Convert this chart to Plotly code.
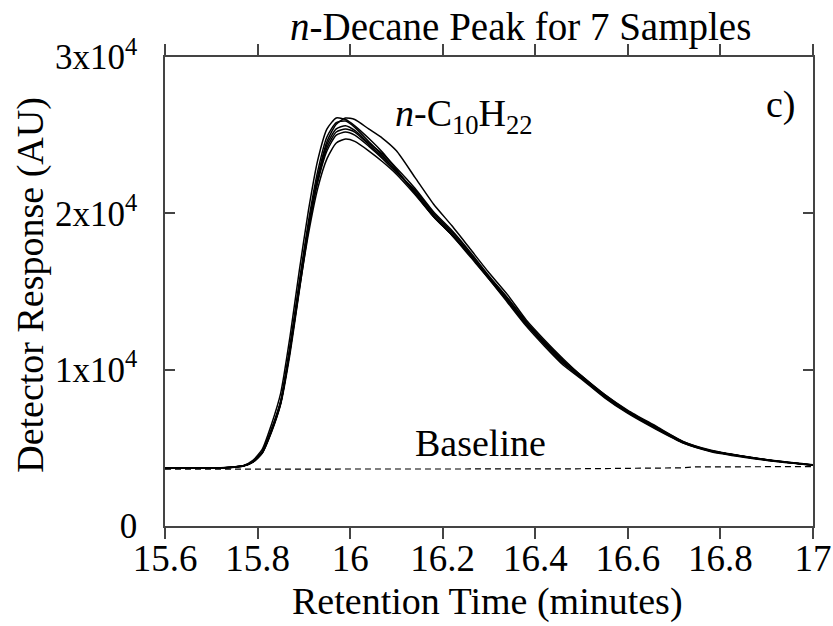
import plotly.graph_objects as go

# Retention time grid (minutes)
time_min = [15.60, 15.65, 15.70, 15.74, 15.77, 15.79, 15.81, 15.83, 15.85, 15.87,
            15.89, 15.91, 15.93, 15.95, 15.97, 15.99, 16.01, 16.04, 16.07, 16.10,
            16.14, 16.18, 16.22, 16.26, 16.30, 16.34, 16.38, 16.42, 16.46, 16.50,
            16.55, 16.60, 16.66, 16.72, 16.78, 16.85, 16.92, 17.00]

sample_1 = [3680, 3720, 3690, 3760, 3880, 4200, 4900, 6500, 8500, 12100,
            16300, 20200, 23400, 25400, 26100, 26000, 25600, 24800, 23900, 22800,
            21300, 19800, 18600, 17200, 15800, 14300, 12800, 11500, 10300, 9400,
            8200, 7200, 6200, 5300, 4750, 4400, 4120, 3880]
sample_2 = [3710, 3690, 3710, 3740, 3840, 4080, 4650, 6000, 7800, 11000,
            15000, 19000, 22300, 24600, 25700, 26100, 26000, 25400, 24800, 24000,
            22300, 20600, 19200, 17700, 16200, 14800, 13200, 11900, 10700, 9600,
            8400, 7400, 6400, 5400, 4850, 4470, 4170, 3910]
sample_3 = [3700, 3710, 3700, 3750, 3860, 4120, 4750, 6200, 8000, 11500,
            15600, 19500, 22700, 24900, 25800, 25900, 25500, 24600, 23700, 22700,
            21400, 19900, 18700, 17300, 15900, 14400, 12900, 11600, 10400, 9500,
            8300, 7300, 6300, 5350, 4800, 4450, 4150, 3900]
sample_4 = [3690, 3700, 3720, 3750, 3850, 4100, 4700, 6100, 7900, 11300,
            15400, 19200, 22300, 24400, 25400, 25600, 25300, 24500, 23800, 22900,
            21600, 20100, 18900, 17500, 16000, 14600, 13100, 11800, 10600, 9600,
            8400, 7350, 6350, 5400, 4820, 4460, 4160, 3890]
sample_5 = [3720, 3690, 3700, 3760, 3850, 4090, 4680, 6050, 7850, 11200,
            15200, 19000, 22100, 24200, 25200, 25400, 25200, 24400, 23600, 22700,
            21300, 19800, 18600, 17300, 15800, 14400, 12900, 11700, 10500, 9450,
            8250, 7250, 6250, 5300, 4780, 4430, 4140, 3900]
sample_6 = [3700, 3700, 3690, 3740, 3840, 4110, 4720, 6150, 7950, 11350,
            15300, 19100, 22000, 24000, 25000, 25200, 25000, 24300, 23500, 22600,
            21500, 20000, 18800, 17400, 15900, 14500, 13000, 11700, 10500, 9500,
            8300, 7300, 6300, 5350, 4800, 4450, 4150, 3900]
sample_7 = [3700, 3710, 3700, 3750, 3850, 4100, 4700, 6100, 7900, 11200,
            15100, 18700, 21600, 23500, 24500, 24750, 24600, 24000, 23300, 22500,
            21200, 19800, 18600, 17300, 15900, 14500, 13000, 11700, 10500, 9500,
            8300, 7300, 6300, 5350, 4800, 4450, 4150, 3900]
samples = [sample_1, sample_2, sample_3, sample_4, sample_5, sample_6, sample_7]

baseline_time = [15.60, 16.45, 16.72, 16.74, 17.00]
baseline_resp = [3640, 3650, 3720, 3780, 3800]

x_ticks = [15.6, 15.8, 16.0, 16.2, 16.4, 16.6, 16.8, 17.0]
x_tick_text = ["15.6", "15.8", "16", "16.2", "16.4", "16.6", "16.8", "17"]
y_ticks = [0, 10000, 20000, 30000]
y_tick_text = ["0", "1x10<sup>4</sup>", "2x10<sup>4</sup>", "3x10<sup>4</sup>"]

FONT = "Liberation Serif, Times New Roman, serif"
AX = "#444444"

fig = go.Figure()
for s in samples:
    fig.add_trace(go.Scatter(x=time_min, y=s, mode="lines",
                             line=dict(color="black", width=1.5, shape="spline", smoothing=0.6),
                             showlegend=False, hoverinfo="skip"))
fig.add_trace(go.Scatter(x=baseline_time, y=baseline_resp, mode="lines",
                         line=dict(color="black", width=1.2, dash="6px,4px"),
                         showlegend=False, hoverinfo="skip"))

fig.update_layout(
    width=833, height=626,
    margin=dict(l=165, r=20, t=57, b=100, autoexpand=False),
    paper_bgcolor="white", plot_bgcolor="white",
    font=dict(family=FONT, size=38, color="black"),
    xaxis=dict(range=[15.6, 17.0], tickvals=x_ticks, ticktext=x_tick_text,
               ticks="outside", ticklen=11, tickwidth=1.5, tickcolor=AX,
               showline=True, linecolor=AX, linewidth=1.5, mirror="ticks",
               showgrid=False, zeroline=False, tickfont=dict(size=37),
               automargin=False, ticklabelstandoff=-12),
    yaxis=dict(range=[0, 30000], tickvals=y_ticks, ticktext=y_tick_text,
               ticks="inside", ticklen=10, tickwidth=1.5, tickcolor=AX,
               showline=True, linecolor=AX, linewidth=1.5, mirror="ticks",
               showgrid=False, zeroline=False, tickfont=dict(size=35),
               automargin=False, ticklabelstandoff=19),
    annotations=[
        dict(text="<i>n</i>-Decane Peak for 7 Samples", xref="paper", yref="paper",
             x=0.549, y=1.064, xanchor="center", yanchor="middle", showarrow=False,
             font=dict(size=39)),
        dict(text="Retention Time (minutes)", xref="paper", yref="paper",
             x=0.498, y=-0.16, xanchor="center", yanchor="middle", showarrow=False,
             font=dict(size=38)),
        dict(text="Detector Response (AU)", xref="paper", yref="paper",
             x=-0.207, y=0.514, xanchor="center", yanchor="middle", showarrow=False,
             textangle=-90, font=dict(size=38)),
        dict(text="<i>n</i>-C<sub>10</sub>H<sub>22</sub>", x=16.246, y=26230,
             xanchor="center", yanchor="middle", showarrow=False, font=dict(size=38)),
        dict(text="c)", x=16.93, y=26930, xanchor="center", yanchor="middle",
             showarrow=False, font=dict(size=38)),
        dict(text="Baseline", x=16.282, y=5310, xanchor="center", yanchor="middle",
             showarrow=False, font=dict(size=38)),
    ],
)

fig.write_html("out.html")
